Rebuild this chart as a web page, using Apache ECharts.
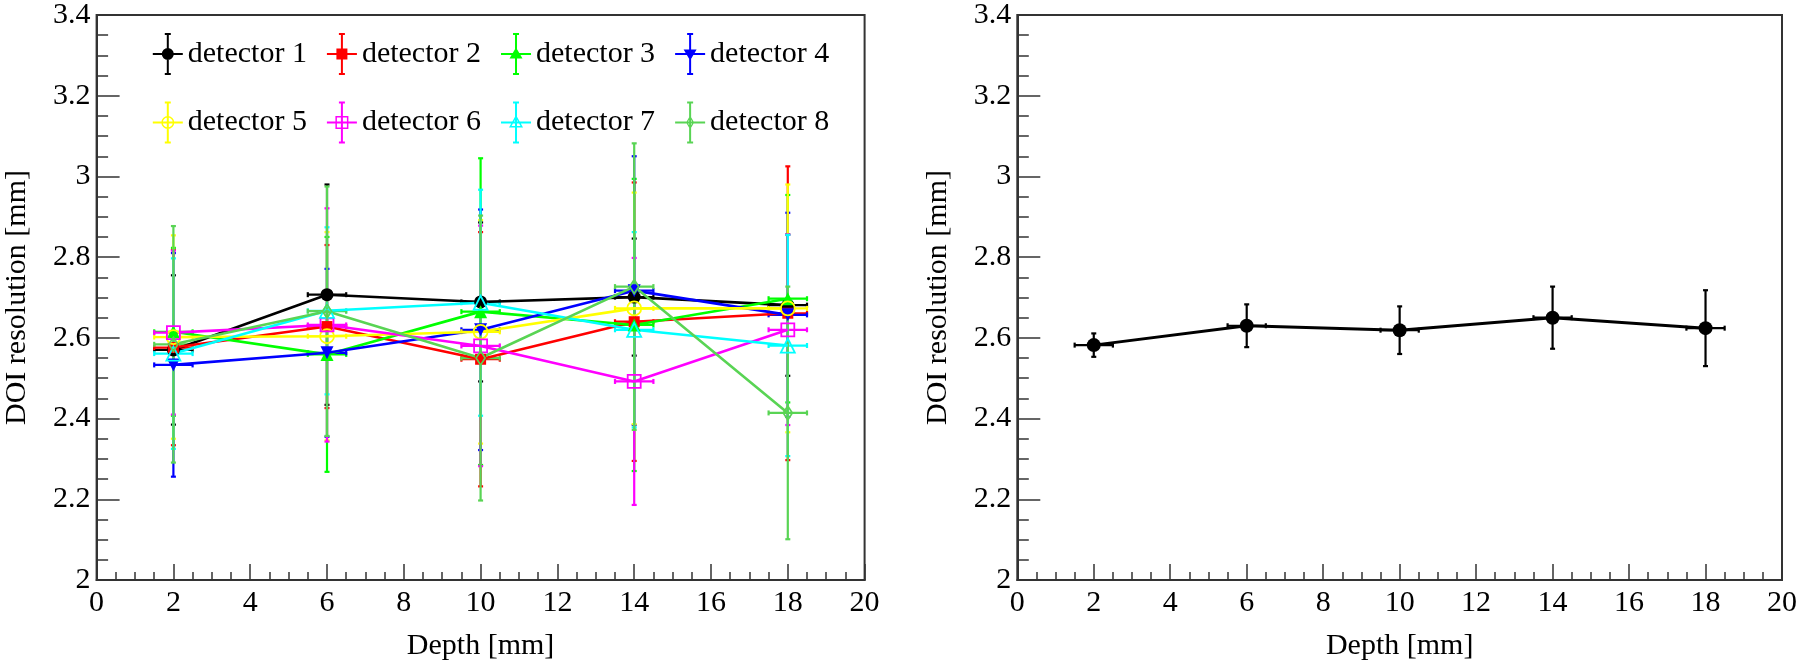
<!DOCTYPE html>
<html><head><meta charset="utf-8">
<script src="https://cdn.jsdelivr.net/npm/echarts@6/dist/echarts.min.js"></script>
<style>html,body{margin:0;padding:0;background:#fff}#c{width:1800px;height:666px}</style>
</head><body><div id="c"></div>
<script>
// ---------------- data ----------------
const depth = [2, 6, 10, 14, 18];
const depthErr = [0.5, 0.5, 0.5, 0.5, 0.5];
const detNames = ['detector 1','detector 2','detector 3','detector 4','detector 5','detector 6','detector 7','detector 8'];
const det1 = [2.570, 2.707, 2.689, 2.701, 2.681];
const det1Err = [0.185, 0.273, 0.197, 0.145, 0.175];
const det2 = [2.576, 2.628, 2.547, 2.640, 2.661];
const det2Err = [0.242, 0.202, 0.315, 0.345, 0.364];
const det3 = [2.615, 2.559, 2.665, 2.632, 2.697];
const det3Err = [0.208, 0.291, 0.380, 0.362, 0.257];
const det4 = [2.533, 2.563, 2.620, 2.717, 2.657];
const det4Err = [0.277, 0.208, 0.298, 0.333, 0.253];
const det5 = [2.602, 2.604, 2.615, 2.673, 2.673];
const det5Err = [0.252, 0.258, 0.277, 0.287, 0.307];
const det6 = [2.613, 2.632, 2.580, 2.492, 2.620];
const det6Err = [0.203, 0.289, 0.298, 0.306, 0.236];
const det7 = [2.561, 2.667, 2.687, 2.620, 2.581];
const det7Err = [0.236, 0.207, 0.280, 0.242, 0.274];
const det8 = [2.584, 2.666, 2.550, 2.727, 2.414];
const det8Err = [0.293, 0.309, 0.353, 0.355, 0.313];
const meanRes = [2.582, 2.630, 2.619, 2.650, 2.624];
const meanErr = [0.029, 0.053, 0.059, 0.077, 0.094];
const xAxisTitle = 'Depth [mm]';
const yAxisTitle = 'DOI resolution [mm]';

// ---------------- styling ----------------
const FONT = "'Liberation Serif', 'Times New Roman', Times, serif";
const AX = '#333333';
const detVals = [det1, det2, det3, det4, det5, det6, det7, det8];
const detErrs = [det1Err, det2Err, det3Err, det4Err, det5Err, det6Err, det7Err, det8Err];
const colors = ['#000000','#ff0000','#00ff00','#0000ff','#ffff00','#ff00ff','#00ffff','#59d454'];
const markers = [
  {symbol:'circle', size:13, filled:true},
  {symbol:'rect', size:11, filled:true},
  {symbol:'triangle', size:13, filled:true},
  {symbol:'triangle', size:13, filled:true, rotate:180},
  {symbol:'circle', size:14, filled:false},
  {symbol:'rect', size:13, filled:false},
  {symbol:'triangle', size:14, filled:false},
  {symbol:'diamond', size:[9,14], filled:false}
];
// legend icons (cross with error caps + marker), 30x42 box
const cross = 'M14 0H16V42H14Z M12 0H18V2H12Z M12 40H18V42H12Z M0 20H30V22H0Z ';
const iconMarks = [
  'M9 21A6 6 0 1 1 21 21A6 6 0 1 1 9 21Z',
  'M9.5 15.5H20.5V26.5H9.5Z',
  'M15 14.5L21.5 25.5L8.5 25.5Z',
  'M8.5 16.5L21.5 16.5L15 27.5Z',
  'M8.5 21A6.5 6.5 0 1 1 21.5 21A6.5 6.5 0 1 1 8.5 21Z M10 21A5 5 0 1 0 20 21A5 5 0 1 0 10 21Z',
  'M8.5 14.5H21.5V27.5H8.5Z M10 16V26H20V16Z',
  'M15 13.5L22 26L8 26Z M15 16.5L10.5 24.5L19.5 24.5Z',
  'M15 14L19 21L15 28L11 21Z M15 16.5L12.4 21L15 25.5L17.6 21Z'
];

function makeErr(color, lw) {
  return function (params, api) {
    const x = api.value(0), y = api.value(1), ey = api.value(2), ex = api.value(3);
    const t = api.coord([x, y + ey]), b = api.coord([x, y - ey]);
    const l = api.coord([x - ex, y]), r = api.coord([x + ex, y]);
    const cap = 2.5;
    const st = {stroke: color, lineWidth: lw, fill: null};
    const ln = (x1, y1, x2, y2) => ({type: 'line', shape: {x1, y1, x2, y2}, style: st});
    return {type: 'group', children: [
      ln(t[0], t[1], b[0], b[1]),
      ln(l[0], l[1], r[0], r[1]),
      ln(t[0] - cap, t[1], t[0] + cap, t[1]),
      ln(b[0] - cap, b[1], b[0] + cap, b[1]),
      ln(l[0], l[1] - cap, l[0], l[1] + cap),
      ln(r[0], r[1] - cap, r[0], r[1] + cap)
    ]};
  };
}

const series = [];
detVals.forEach((vals, k) => {
  const c = colors[k], m = markers[k];
  series.push({
    type: 'custom', name: detNames[k] + ' err', xAxisIndex: 0, yAxisIndex: 0,
    renderItem: makeErr(c, 2.2), silent: true, clip: true,
    encode: {x: 0, y: 1},
    data: depth.map((d, i) => [d, vals[i], detErrs[k][i], depthErr[i]])
  });
  series.push({
    type: 'line', name: detNames[k], xAxisIndex: 0, yAxisIndex: 0,
    data: depth.map((d, i) => [d, vals[i]]),
    symbol: m.symbol, symbolSize: m.size, symbolRotate: m.rotate || 0, showSymbol: true,
    lineStyle: {color: c, width: 2.6},
    itemStyle: m.filled ? {color: c, borderWidth: 0} : {color: 'rgba(255,255,255,0)', borderColor: c, borderWidth: 1.8},
    emphasis: {disabled: true}, silent: true
  });
});
series.push({
  type: 'custom', name: 'mean err', xAxisIndex: 1, yAxisIndex: 1,
  renderItem: makeErr('#000', 2.2), silent: true,
  encode: {x: 0, y: 1},
  data: depth.map((d, i) => [d, meanRes[i], meanErr[i], depthErr[i]])
});
series.push({
  type: 'line', name: 'mean', xAxisIndex: 1, yAxisIndex: 1,
  data: depth.map((d, i) => [d, meanRes[i]]),
  symbol: 'circle', symbolSize: 14, showSymbol: true,
  lineStyle: {color: '#000', width: 3}, itemStyle: {color: '#000'},
  emphasis: {disabled: true}, silent: true
});

const grids = [
  {left: 96.6, top: 10, width: 768, height: 574.3},
  {left: 1017.3, top: 10, width: 768.7, height: 574.3}
];
const txt = {fontFamily: FONT, fontSize: 30, color: '#000'};
const xAxes = grids.map((g, i) => ({
  gridIndex: i, type: 'value', min: 0, max: 20, interval: 2,
  axisLine: {show: true, onZero: false, lineStyle: {color: AX, width: 2}},
  axisTick: {show: true, inside: true, length: 16, lineStyle: {color: AX, width: 1.5}},
  minorTick: {show: true, splitNumber: 4, length: 8, lineStyle: {color: AX, width: 1.5}},
  splitLine: {show: false},
  axisLabel: Object.assign({margin: 8}, txt),
  name: xAxisTitle, nameLocation: 'middle', nameGap: 51, nameTextStyle: txt
}));
const yAxes = grids.map((g, i) => ({
  gridIndex: i, type: 'value', min: 2, max: 3.4, interval: 0.2,
  axisLine: {show: true, onZero: false, lineStyle: {color: AX, width: 2}},
  axisTick: {show: true, inside: true, length: 23, lineStyle: {color: AX, width: 1.5}},
  minorTick: {show: true, splitNumber: 4, length: 11.5, lineStyle: {color: AX, width: 1.5}},
  splitLine: {show: false},
  axisLabel: Object.assign({margin: 6}, txt),
  name: yAxisTitle, nameLocation: 'middle', nameGap: 64, nameTextStyle: txt
}));

const legendData = (ks) => ks.map(k => ({
  name: detNames[k], icon: 'path://' + cross + iconMarks[k],
  itemStyle: {color: colors[k], borderWidth: 0}
}));
const legBase = {
  orient: 'horizontal', left: 152.8, itemWidth: 30, itemHeight: 42, itemGap: 20,
  textStyle: {fontFamily: FONT, fontSize: 30, color: '#000'}, selectedMode: false, padding: 0
};

const chart = echarts.init(document.getElementById('c'), null, {renderer: 'canvas'});
chart.setOption({
  animation: false,
  backgroundColor: '#fff',
  grid: grids.map(g => Object.assign({show: true, borderColor: AX, borderWidth: 2, backgroundColor: 'transparent'}, g)),
  xAxis: xAxes,
  yAxis: yAxes,
  legend: [
    Object.assign({top: 33, data: legendData([0,1,2,3])}, legBase),
    Object.assign({top: 101.5, data: legendData([4,5,6,7])}, legBase)
  ],
  series: series
});
</script>
</body></html>
